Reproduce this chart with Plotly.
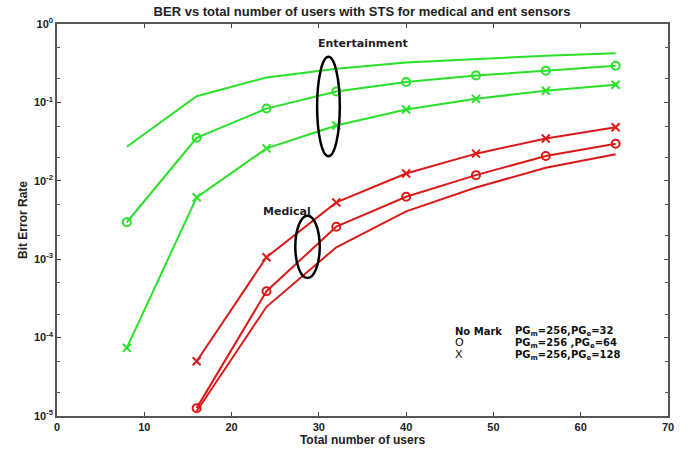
import plotly.graph_objects as go

users = [8, 16, 24, 32, 40, 48, 56, 64]
users_med = [16, 24, 32, 40, 48, 56, 64]

# Entertainment (green)
ent_pg32 = [0.0272, 0.12, 0.208, 0.268, 0.323, 0.36, 0.393, 0.425]
ent_pg64 = [0.00296, 0.0354, 0.0834, 0.138, 0.182, 0.221, 0.253, 0.293]
ent_pg128 = [7.4e-5, 0.00614, 0.0259, 0.0508, 0.081, 0.111, 0.141, 0.168]

# Medical (red)
med_pg32 = [1.15e-5, 2.47e-4, 0.00142, 0.00408, 0.0082, 0.0147, 0.0218]
med_pg64 = [1.26e-5, 3.9e-4, 0.0026, 0.00625, 0.0118, 0.0207, 0.0297]
med_pg128 = [5.0e-5, 1.06e-3, 0.0053, 0.0124, 0.0222, 0.0347, 0.0483]

ytick_vals = [1, 0.1, 0.01, 0.001, 1e-4, 1e-5]
ytick_text = ["<b>10<sup>0</sup></b>", "<b>10<sup>-1</sup></b>", "<b>10<sup>-2</sup></b>",
              "<b>10<sup>-3</sup></b>", "<b>10<sup>-4</sup></b>", "<b>10<sup>-5</sup></b>"]
xtick_vals = [0, 10, 20, 30, 40, 50, 60, 70]
xtick_text = ["<b>%d</b>" % v for v in xtick_vals]

GREEN = "rgb(40,225,40)"
RED = "rgb(220,25,25)"

fig = go.Figure()

def add(x, y, color, symbol):
    mode = "lines" if symbol is None else "lines+markers"
    fig.add_trace(go.Scatter(
        x=x, y=y, mode=mode,
        line=dict(color=color, width=2),
        marker=dict(symbol=symbol or "circle", size=8,
                    color=color, line=dict(color=color, width=2)),
        showlegend=False))

add(users, ent_pg32, GREEN, None)
add(users, ent_pg64, GREEN, "circle-open")
add(users, ent_pg128, GREEN, "x-thin-open")
add(users_med, med_pg32, RED, None)
add(users_med, med_pg64, RED, "circle-open")
add(users_med, med_pg128, RED, "x-thin-open")

# ellipses
fig.add_shape(type="circle", xref="x", yref="y",
              x0=29.8, x1=32.4, y0=0.0205, y1=0.381,
              line=dict(color="black", width=2.5))
fig.add_shape(type="circle", xref="x", yref="y",
              x0=27.3, x1=30.1, y0=5.75e-4, y1=0.00359,
              line=dict(color="black", width=2.5))

fig.add_annotation(x=35.0, y=-0.25, xref="x", yref="y", text="<b>Entertainment</b>",
                   showarrow=False, font=dict(family="DejaVu Sans", size=11, color="#222"))
fig.add_annotation(x=26.3, y=-2.39, xref="x", yref="y", text="<b>Medical</b>",
                   showarrow=False, font=dict(family="DejaVu Sans", size=11, color="#222"))

leg_font = dict(family="DejaVu Sans", size=10, color="#111")
fig.add_annotation(x=453, y=333, xref="paper", yref="paper", text="<b>No Mark</b>", showarrow=False,
                   font=leg_font, xanchor="left", yanchor="middle")
fig.add_annotation(x=453, y=344, xref="paper", yref="paper", text="O", showarrow=False,
                   font=dict(family="DejaVu Sans", size=11, color="#111"), xanchor="left", yanchor="middle")
fig.add_annotation(x=453, y=356, xref="paper", yref="paper", text="X", showarrow=False,
                   font=dict(family="DejaVu Sans", size=11, color="#111"), xanchor="left", yanchor="middle")
fig.add_annotation(x=513, y=333, xref="paper", yref="paper",
                   text="<b>PG<sub>m</sub>=256,PG<sub>e</sub>=32</b>", showarrow=False,
                   font=leg_font, xanchor="left", yanchor="middle")
fig.add_annotation(x=513, y=345, xref="paper", yref="paper",
                   text="<b>PG<sub>m</sub>=256 ,PG<sub>e</sub>=64</b>", showarrow=False,
                   font=leg_font, xanchor="left", yanchor="middle")
fig.add_annotation(x=513, y=357, xref="paper", yref="paper",
                   text="<b>PG<sub>m</sub>=256,PG<sub>e</sub>=128</b>", showarrow=False,
                   font=leg_font, xanchor="left", yanchor="middle")

# convert pixel-based paper coords for legend annotations
L, R, T, B = 57, 21, 24, 37
W, H = 689, 455
pw, ph = W - L - R, H - T - B
for a in fig.layout.annotations:
    if a.xref == "paper":
        a.x = (a.x - L) / pw
        a.y = 1 - (a.y - T) / ph

fig.update_layout(
    width=W, height=H,
    margin=dict(l=L, r=R, t=T, b=B),
    paper_bgcolor="white", plot_bgcolor="white",
    title=dict(text="<b>BER vs total number of users with STS for medical and ent sensors</b>",
               x=(362) / W, xanchor="center", y=1 - 11 / H, yanchor="middle",
               font=dict(family="Liberation Sans Narrow, Liberation Sans", size=13, color="#222")),
    font=dict(family="Liberation Sans", color="#222"),
)
fig.update_xaxes(
    range=[0, 70], tickvals=xtick_vals, ticktext=xtick_text, ticks="inside", ticklen=4, tickwidth=1,
    tickcolor="#444", showline=True, linecolor="#555", linewidth=1.5, mirror="ticks",
    showgrid=False, zeroline=False,
    tickfont=dict(family="Liberation Sans", size=11, color="#222"),
    title=dict(text="<b>Total number of users</b>", standoff=2,
               font=dict(family="Liberation Sans Narrow, Liberation Sans", size=12, color="#222")),
)
fig.update_yaxes(
    type="log", range=[-5, 0], tickvals=ytick_vals, ticktext=ytick_text,
    ticks="inside", ticklen=4, tickwidth=1, tickcolor="#444",
    minor=dict(ticks="inside", ticklen=3, tickcolor="#555", showgrid=False),
    showline=True, linecolor="#555", linewidth=1.5, mirror="ticks",
    showgrid=False, zeroline=False,
    tickfont=dict(family="Liberation Sans", size=11, color="#222"),
    title=dict(text="<b>Bit Error Rate</b>", standoff=4,
               font=dict(family="Liberation Sans Narrow, Liberation Sans", size=12, color="#222")),
)

fig.write_html("out.html")
